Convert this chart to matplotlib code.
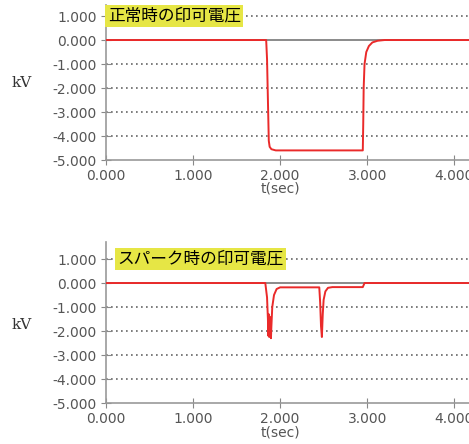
import matplotlib
matplotlib.use("Agg")
import matplotlib.pyplot as plt

plt.rcParams['font.family'] = ['DejaVu Sans', 'Noto Sans CJK JP']

# normal operation: applied voltage (kV) vs time (sec)
normal_t = [0.0, 1.84, 1.85, 1.86, 1.87, 1.88, 1.90, 1.95, 2.50, 2.95, 2.955,
            2.96, 2.97, 2.99, 3.02, 3.06, 3.12, 3.20, 4.20]
normal_v = [0.0, 0.0, -0.8, -2.5, -4.2, -4.45, -4.55, -4.6, -4.6, -4.6, -3.5,
            -2.0, -1.0, -0.5, -0.25, -0.1, -0.03, 0.0, 0.0]

# spark event
spark_t = [0.0, 1.83, 1.85, 1.86, 1.865, 1.87, 1.875, 1.88, 1.885, 1.89, 1.895,
           1.90, 1.91, 1.93, 1.96, 2.00, 2.45, 2.46, 2.47, 2.48, 2.49, 2.50,
           2.52, 2.55, 2.60, 2.95, 2.97, 4.20]
spark_v = [0.0, 0.0, -0.6, -1.5, -2.2, -1.3, -2.25, -1.4, -2.2, -1.5, -2.3,
           -1.8, -1.0, -0.5, -0.25, -0.18, -0.18, -0.8, -1.8, -2.25, -1.3, -0.7,
           -0.35, -0.2, -0.17, -0.17, 0.0, 0.0]

titles = ["正常時の印可電圧", "スパーク時の印可電圧"]
yticks = [1, 0, -1, -2, -3, -4, -5]
xticks = [0, 1, 2, 3, 4]

W, H = 469, 444
fig = plt.figure(figsize=(W / 100, H / 100), dpi=100)

def px(left, top, right, bottom):
    return [left / W, 1 - bottom / H, (right - left) / W, (bottom - top) / H]

panels = [
    (px(106, 5, 469, 160), normal_t, normal_v, titles[0], 1.46, 0.02, 83),
    (px(106, 242, 469, 403), spark_t, spark_v, titles[1], 1.71, 0.13, 325),
]

gray = "#555555"
for rect, t, v, title, ytop, tx, kv_y in panels:
    ax = fig.add_axes(rect)
    ax.set_xlim(0, 4.17)
    ax.set_ylim(-5, ytop)
    for g in [1, -1, -2, -3, -4]:
        ax.axhline(g, color="#666666", lw=1.2, ls=(0, (1, 2)), zorder=1)
    ax.axhline(0, color="#777777", lw=1.2, zorder=2)
    ax.plot(t, v, color="#ea2a2a", lw=1.4, zorder=3)

    ax.set_yticks(yticks)
    ax.set_yticklabels(["%.3f" % y for y in yticks])
    ax.set_xticks(xticks)
    ax.set_xticklabels(["%.3f" % x for x in xticks])
    ax.tick_params(direction="inout", length=7, color="#888888",
                   labelcolor=gray, labelsize=10, pad=3)
    for s in ["top", "right"]:
        ax.spines[s].set_visible(False)
    for s in ["left", "bottom"]:
        ax.spines[s].set_color("#999999")
        ax.spines[s].set_linewidth(1.2)

    ax.set_xlabel("t(sec)", fontsize=10, color=gray)
    ax.xaxis.set_label_coords(0.48, -0.14)

    ax.text(tx, 1.0, title, family=["Noto Sans CJK JP", "DejaVu Sans"],
            fontsize=12, ha="left", va="center", zorder=5,
            bbox=dict(boxstyle="square,pad=0.15", fc="#e6e645", ec="none"))

    fig.text(22 / W, 1 - kv_y / H, "kV", family="DejaVu Serif",
             fontsize=11, color="#333333", ha="center", va="center")

fig.savefig("out.png", dpi=100)
